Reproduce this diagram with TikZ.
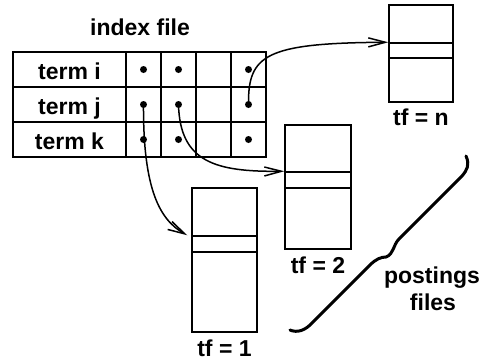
\documentclass[tikz,border=0pt]{standalone}
\usepackage{fontspec}
\setmainfont{Liberation Sans}
\usetikzlibrary{arrows.meta}
\tikzset{
  lbl/.style={font=\fontsize{23}{27}\selectfont\bfseries, inner sep=0pt},
  cell/.style={draw, line width=1.5pt, minimum height=35pt, inner sep=0pt,
    text height=19pt, text depth=0pt, font=\fontsize{23}{27}\selectfont\bfseries},
  termcell/.style={cell, minimum width=113pt},
  ptrcell/.style={cell, minimum width=35pt},
  dotmark/.style={circle, fill, inner sep=0pt, minimum size=7pt},
  pbox/.style={draw, line width=1.5pt, inner sep=0pt},
  link/.style={line width=1.5pt, -{Straight Barb[length=17pt, width=9pt, line width=1.5pt]}},
  bracepath/.style={line width=3pt, line cap=round, line join=round}
}
\begin{document}
\begin{tikzpicture}[x=1pt, y=-1pt]
\useasboundingbox (0,0) rectangle (483,360);

% index file table
\node[lbl, anchor=base] (title) at (140,35) {index file};
\foreach \r/\t/\y in {i/term i/69.5, j/term j/104.5, k/term k/139.5}{
  \node[termcell] (t\r) at (69.5,\y) {\t};
  \foreach \c/\x in {1/143.5, 2/178.5, 3/213.5, 4/248.5}
    \node[ptrcell] (c\r\c) at (\x,\y) {};
  \foreach \c in {1,2,4}
    \node[dotmark] (d\r\c) at (c\r\c.center) {};
}

% postings files
\node[pbox, minimum width=64pt, minimum height=97pt] (bn) at (421,53.5) {};
\node[pbox, minimum width=64pt, minimum height=15pt] (sn) at (421,50.5) {};
\node[lbl, anchor=base] (ln) at (421,125) {tf = n};

\node[pbox, minimum width=66pt, minimum height=124pt] (b2) at (318,187) {};
\node[pbox, minimum width=66pt, minimum height=16pt] (s2) at (318,180) {};
\node[lbl, anchor=base] (l2) at (318,273) {tf = 2};

\node[pbox, minimum width=65pt, minimum height=144pt] (b1) at (224.5,260) {};
\node[pbox, minimum width=65pt, minimum height=16pt] (s1) at (224.5,244) {};
\node[lbl, anchor=base] (l1) at (224.5,356.5) {tf = 1};

% pointers from the index entries
\draw[link] (dj4.center) .. controls (248,55) and (265,43) .. (sn.north west);
\draw[link] (dj2.center) .. controls (180,162) and (215,172) .. (s2.north west);
\draw[link] (dj1.center) .. controls (143,190) and (160,220) .. ([xshift=-4pt]s1.north west);

% brace grouping the postings files
\draw[bracepath] (466,156) .. controls (470,165) and (467,170) .. (462,176)
  -- (399,239) .. controls (393,245) and (394,254) .. (386,257)
  .. controls (381,257) and (376,259) .. (370,265)
  -- (313,322) .. controls (305,331) and (297,333) .. (290,330);
\node[lbl, anchor=base] (post) at (432,283) {postings};
\node[lbl, anchor=base] (files) at (433,310) {files};
\end{tikzpicture}
\end{document}
